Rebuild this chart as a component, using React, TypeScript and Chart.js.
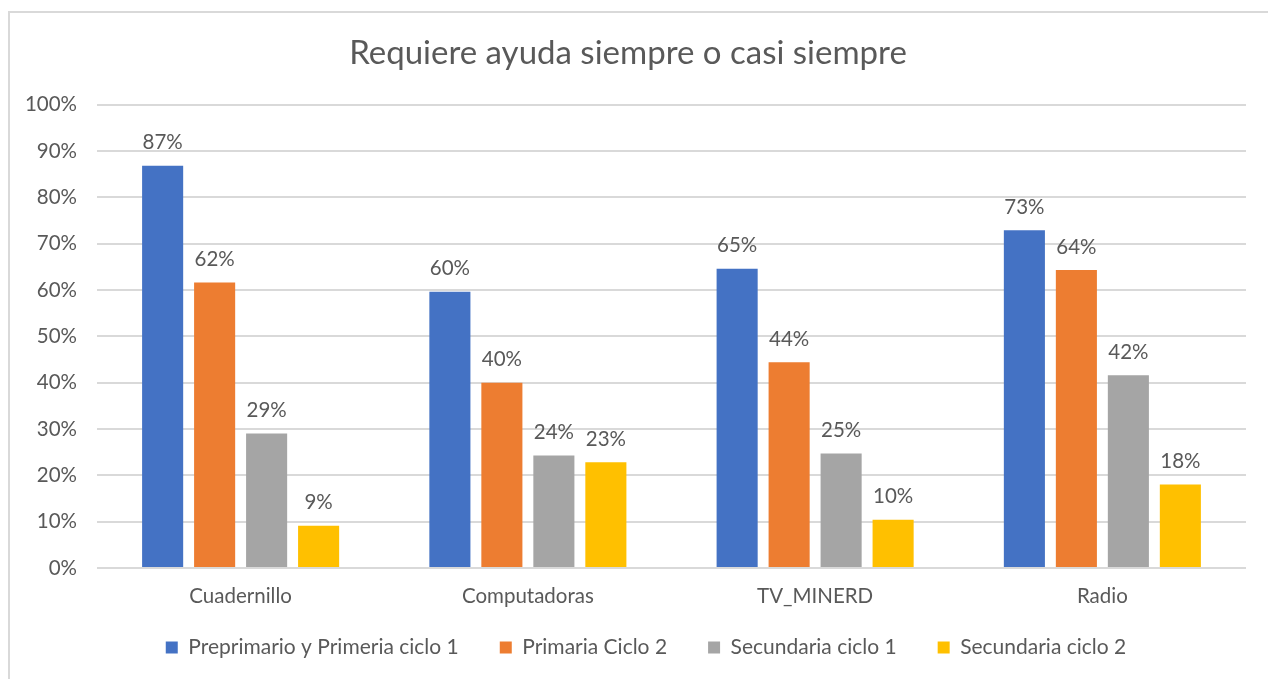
import React, { useEffect, useRef } from "react";
import { Chart, registerables } from "chart.js";

Chart.register(...registerables);

const TITLE = "Requiere ayuda siempre o casi siempre";
const categories = ["Cuadernillo", "Computadoras", "TV_MINERD", "Radio"];
const seriesNames = [
  "Preprimario y Primeria ciclo 1",
  "Primaria Ciclo 2",
  "Secundaria ciclo 1",
  "Secundaria ciclo 2",
];
const preprimarioCiclo1 = [86.8, 59.6, 64.6, 72.9];
const primariaCiclo2 = [61.6, 40.0, 44.4, 64.3];
const secundariaCiclo1 = [29.0, 24.3, 24.7, 41.6];
const secundariaCiclo2 = [9.1, 22.8, 10.4, 18.0];
const seriesColors = ["#4472C4", "#ED7D31", "#A5A5A5", "#FFC000"];
const yTicks = [0, 10, 20, 30, 40, 50, 60, 70, 80, 90, 100];

const FONT = "Lato, 'Open Sans', sans-serif";
const TEXT = "#595959";

const dataLabelPlugin = {
  id: "dataLabels",
  afterDatasetsDraw(chart: any) {
    const ctx = chart.ctx;
    ctx.save();
    ctx.fillStyle = TEXT;
    ctx.font = `20.5px ${FONT}`;
    ctx.textAlign = "center";
    ctx.textBaseline = "middle";
    chart.data.datasets.forEach((ds: any, i: number) => {
      const meta = chart.getDatasetMeta(i);
      meta.data.forEach((el: any, j: number) => {
        const v = ds.data[j];
        ctx.fillText(`${Math.round(v)}%`, el.x, el.y - 23);
      });
    });
    ctx.restore();
  },
};

const legendShiftPlugin = {
  id: "legendShift",
  afterLayout(chart: any) {
    const lg = chart.legend;
    if (lg) {
      lg.left += 18;
      lg.right += 18;
    }
  },
};

export default function App() {
  const ref = useRef<HTMLCanvasElement | null>(null);
  useEffect(() => {
    if (!ref.current) return;
    const values = [preprimarioCiclo1, primariaCiclo2, secundariaCiclo1, secundariaCiclo2];
    const chart = new Chart(ref.current, {
      type: "bar",
      data: {
        labels: categories,
        datasets: seriesNames.map((name, i) => ({
          label: name,
          data: values[i],
          backgroundColor: seriesColors[i],
          borderWidth: 0,
          categoryPercentage: 0.724,
          barPercentage: 0.79,
        })),
      },
      options: {
        animation: false,
        responsive: true,
        maintainAspectRatio: false,
        layout: { padding: { left: 10, right: 22, top: 0, bottom: 0 } },
        plugins: {
          title: {
            display: true,
            text: TITLE,
            color: TEXT,
            font: { family: FONT, size: 33, weight: "normal", lineHeight: 1.2 },
            padding: { top: 34, bottom: 31 },
          },
          legend: {
            display: true,
            position: "bottom",
            labels: {
              color: TEXT,
              font: { family: FONT, size: 21 },
              boxWidth: 12,
              boxHeight: 12,
              padding: 41,
            },
          },
          tooltip: { enabled: false },
        },
        scales: {
          x: {
            grid: { display: false, drawTicks: false },
            border: { display: false },
            ticks: {
              color: TEXT,
              font: { family: FONT, size: 20.5, lineHeight: 1.2 },
              mirror: true,
              padding: -41,
            },
            afterFit: (s: any) => {
              s.height = 28;
            },
          },
          y: {
            min: 0,
            max: 100,
            afterBuildTicks: (s: any) => {
              s.ticks = yTicks.map((v) => ({ value: v }));
            },
            grid: { color: "#D9D9D9", lineWidth: 2, drawTicks: false },
            border: { display: false },
            ticks: {
              color: TEXT,
              font: { family: FONT, size: 20.5 },
              padding: 20,
              callback: (v: any) => `${v}%`,
            },
            afterFit: (s: any) => {
              s.width = 87;
            },
          },
        },
      },
      plugins: [dataLabelPlugin, legendShiftPlugin],
    });
    return () => chart.destroy();
  }, []);

  return (
    <div style={{ position: "fixed", left: 0, top: 0, width: 1268, height: 679, overflow: "hidden", background: "#fff" }}>
      <div style={{ position: "absolute", left: 8, top: 11, width: 1400, height: 800, border: "2px solid #D9D9D9", boxSizing: "border-box" }} />
      <div style={{ position: "absolute", left: 0, top: 0, width: 1268, height: 668 }}>
        <canvas ref={ref} />
      </div>
    </div>
  );
}
